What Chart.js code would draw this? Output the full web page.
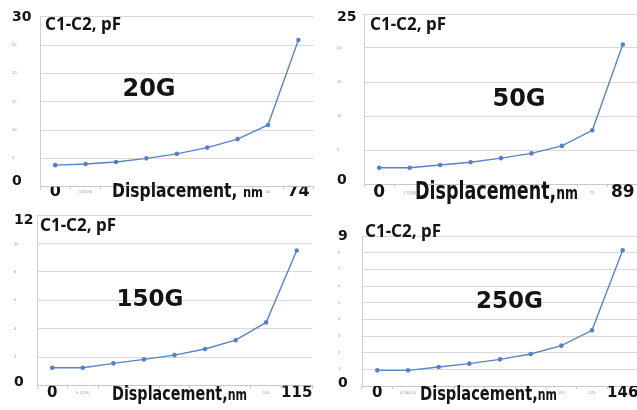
<!DOCTYPE html>
<html><head><meta charset="utf-8">
<script src="https://cdn.jsdelivr.net/npm/chart.js@4.4.1/dist/chart.umd.min.js"></script>
<style>
html,body{margin:0;padding:0;background:#fff;overflow:hidden}
#wrap{position:relative;width:637px;height:410px;overflow:hidden;background:#fff}
canvas{position:absolute}
</style></head><body>
<div id="wrap">
<canvas id="c1" width="318" height="205" style="left:0;top:0"></canvas>
<canvas id="c2" width="322" height="205" style="left:318px;top:0"></canvas>
<canvas id="c3" width="318" height="205" style="left:0;top:205px"></canvas>
<canvas id="c4" width="322" height="205" style="left:318px;top:205px"></canvas>
</div>
<script>
// ---- data ----
const labels20G = ["0","3.8(1G)","","","","","","60","74"];
const values20G = [3.8, 4.0, 4.35, 5.0, 5.8, 6.9, 8.4, 10.9, 25.9];
const labels50G = ["0","1.7(1G)","","","","","60","75","89"];
const values50G = [2.4, 2.4, 2.8, 3.2, 3.8, 4.5, 5.6, 7.9, 20.5];
const labels150G = ["0","0.7(1G)","","","","","","100","115"];
const values150G = [1.26, 1.26, 1.57, 1.85, 2.15, 2.58, 3.2, 4.45, 9.5];
const labels250G = ["0","0.58(1G)","","","","","105","125","146"];
const values250G = [0.94, 0.94, 1.14, 1.34, 1.6, 1.92, 2.42, 3.34, 8.14];
const yMax20G = 30, yStep20G = 5;
const yMax50G = 25, yStep50G = 5;
const yMax150G = 12, yStep150G = 2;
const yMax250G = 9, yStep250G = 1;
const seriesTitle = "C1-C2, pF";
const gLabel20G = "20G", gLabel50G = "50G", gLabel150G = "150G", gLabel250G = "250G";
const xTitle20G = ["Displacement, ", "nm"];
const xTitleOther = ["Displacement,", "nm"];

const NARROW = '"DejaVu Sans",sans-serif';
const BIG = '"DejaVu Sans",sans-serif';

const annot = {
  id: 'annot',
  afterDraw(chart, args, o) {
    const ctx = chart.ctx;
    ctx.save();
    ctx.fillStyle = '#141414';
    ctx.textBaseline = 'middle';
    ctx.textAlign = 'left';
    ctx.font = 'bold ' + o.titleSize + 'px "Noto Sans",sans-serif';
    ctx.fillText(o.title, o.titleX, o.titleY);
    ctx.textAlign = 'center';
    ctx.font = 'bold ' + o.gSize + 'px ' + BIG;
    ctx.fillText(o.g, o.gX, o.gY);
    // x title: condensed by horizontal scaling to its width in the picture
    ctx.textAlign = 'left';
    ctx.textBaseline = 'alphabetic';
    ctx.font = 'bold ' + o.xtSize + 'px ' + NARROW;
    const w1 = ctx.measureText(o.xt[0]).width;
    ctx.font = 'bold ' + o.nmSize + 'px ' + NARROW;
    const w2 = ctx.measureText(o.xt[1]).width;
    const sx = o.xtW / (w1 + w2);
    ctx.translate(o.xtX, o.xtY);
    ctx.scale(sx, 1);
    ctx.font = 'bold ' + o.xtSize + 'px ' + NARROW;
    ctx.fillText(o.xt[0], 0, 0);
    ctx.font = 'bold ' + o.nmSize + 'px ' + NARROW;
    ctx.fillText(o.xt[1], w1, 0);
    ctx.restore();
  }
};

function makeChart(id, labels, values, yMax, yStep, g, a) {
  const last = labels.length - 1;
  return new Chart(document.getElementById(id), {
    type: 'line',
    data: {
      labels: labels,
      datasets: [{
        data: values,
        borderColor: '#5a84c2',
        backgroundColor: '#4f7bbb',
        borderWidth: 1.4,
        pointRadius: 1.6,
        pointHoverRadius: 1.6,
        tension: 0
      }]
    },
    plugins: [annot],
    options: {
      responsive: false,
      devicePixelRatio: 1,
      animation: false,
      events: [],
      layout: { autoPadding: false, padding: { left: g.padLeft, top: g.padTop, right: g.padRight, bottom: 0 } },
      plugins: { legend: { display: false }, tooltip: { enabled: false }, annot: a },
      scales: {
        x: {
          type: 'category',
          offset: true,
          grid: { drawOnChartArea: false, drawTicks: true, tickLength: 3, color: '#c8c8c8', offset: true },
          border: { display: true, color: '#c8c8c8' },
          ticks: {
            autoSkip: false, maxRotation: 0, minRotation: 0,
            padding: g.xPad,
            color: (c) => (c.index === 0 || c.index === last) ? '#141414' : '#999',
            font: (c) => (c.index === 0 || c.index === last)
              ? { family: BIG, weight: 'bold', size: g.xBig, lineHeight: '6px' }
              : { family: '"Liberation Sans",sans-serif', size: 4, lineHeight: '6px' }
          },
          afterFit: (s) => { s.height = g.xHeight; s.paddingLeft = 0; s.paddingRight = 0; }
        },
        y: {
          min: 0, max: yMax,
          grid: { color: '#d9d9d9', drawTicks: false, lineWidth: 1 },
          border: { display: true, color: '#d0d0d0' },
          ticks: {
            stepSize: yStep,
            autoSkip: false,
            crossAlign: 'far',
            padding: 0,
            color: (c) => (c.tick && (c.tick.value === 0 || c.tick.value === yMax)) ? '#141414' : '#999',
            font: (c) => {
              const v = c.tick ? c.tick.value : 1;
              if (v === yMax) return { family: BIG, weight: 'bold', size: 14, lineHeight: g.topDrop };
              if (v === 0) return { family: BIG, weight: 'bold', size: 14, lineHeight: g.zeroLift };
              return { family: '"Liberation Sans",sans-serif', size: 4, lineHeight: 1 };
            },
            callback: (v) => v === 0 ? ['0', ''] : (v === yMax ? ['', String(v)] : String(v))
          },
          afterFit: (s) => { s.width = g.yWidth; s.paddingTop = 0; s.paddingBottom = 0; }
        }
      }
    }
  });
}

makeChart('c1', labels20G, values20G, yMax20G, yStep20G,
  { padLeft: 12, yWidth: 28, padTop: 16.7, padRight: 4.4, xHeight: 18.3, xPad: -1, xBig: 16, zeroLift: '10px', topDrop: '2px' },
  { title: seriesTitle, titleSize: 17, titleX: 45, titleY: 25, g: gLabel20G, gSize: 24, gX: 149, gY: 90,
    xt: xTitle20G, xtSize: 19, nmSize: 14, xtX: 112, xtY: 197, xtW: 151 });
makeChart('c2', labels50G, values50G, yMax50G, yStep50G,
  { padLeft: 19, yWidth: 27, padTop: 14, padRight: 2, xHeight: 21, xPad: 3, xBig: 17, zeroLift: '8px', topDrop: '6px' },
  { title: seriesTitle, titleSize: 17, titleX: 52, titleY: 25, g: gLabel50G, gSize: 24, gX: 201, gY: 100,
    xt: xTitleOther, xtSize: 24, nmSize: 17, xtX: 97, xtY: 199, xtW: 163 });
makeChart('c3', labels150G, values150G, yMax150G, yStep150G,
  { padLeft: 14, yWidth: 23, padTop: 10, padRight: 6, xHeight: 24.3, xPad: 1, xBig: 15, zeroLift: '6px', topDrop: '10px' },
  { title: seriesTitle, titleSize: 17, titleX: 40, titleY: 21, g: gLabel150G, gSize: 23, gX: 150, gY: 95,
    xt: xTitleOther, xtSize: 19.5, nmSize: 15, xtX: 112, xtY: 195, xtW: 135 });
makeChart('c4', labels250G, values250G, yMax250G, yStep250G,
  { padLeft: 20, yWidth: 24, padTop: 31, padRight: 2, xHeight: 24, xPad: 1, xBig: 15, zeroLift: '6px', topDrop: '1px' },
  { title: seriesTitle, titleSize: 17, titleX: 47, titleY: 27, g: gLabel250G, gSize: 23, gX: 191.5, gY: 97,
    xt: xTitleOther, xtSize: 20, nmSize: 15, xtX: 102, xtY: 195, xtW: 137 });
</script>
</body></html>
